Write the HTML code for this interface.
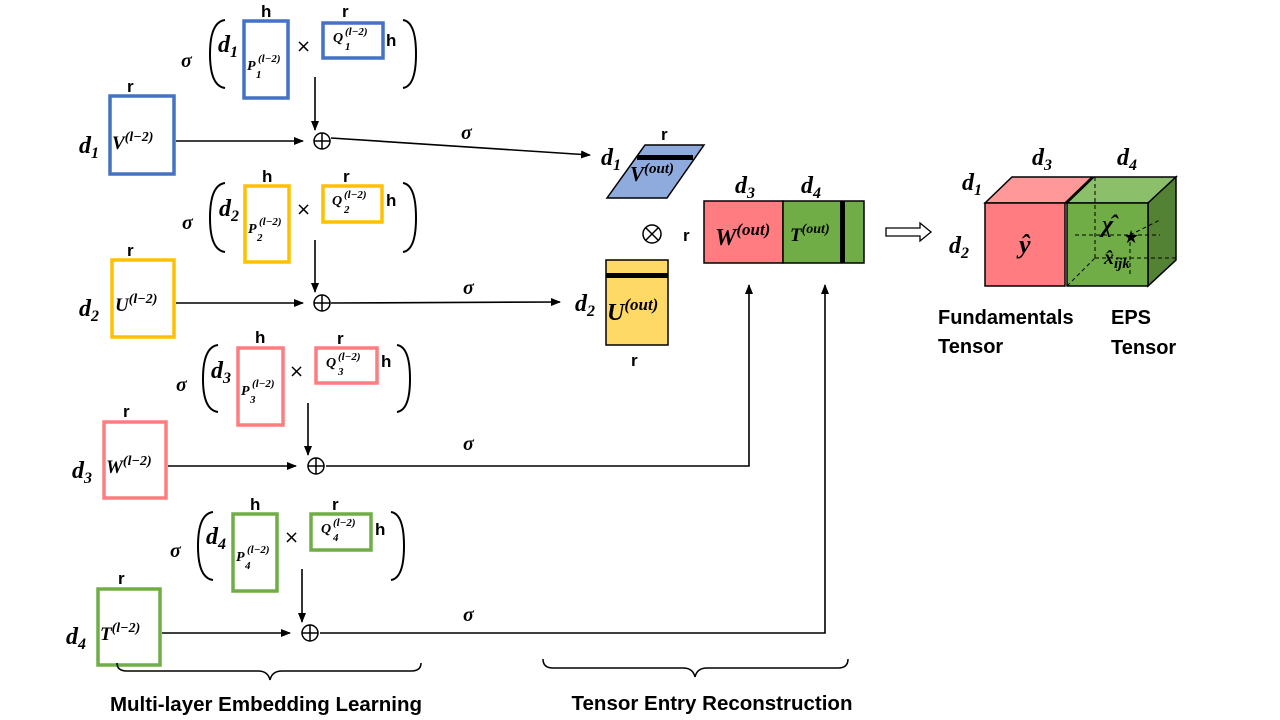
<!DOCTYPE html>
<html><head><meta charset="utf-8"><style>
body{margin:0;background:#fff}
svg{display:block}
.m{font-family:"Liberation Serif",serif;font-style:italic;font-weight:bold}
.s{font-family:"Liberation Sans",sans-serif;font-weight:bold}
.sg{font-family:"Liberation Serif",serif;font-style:italic;font-weight:bold;font-size:20px}
</style></head><body>
<svg width="1280" height="720" viewBox="0 0 1280 720" xmlns="http://www.w3.org/2000/svg">
<defs>
<marker id="a" markerWidth="10" markerHeight="8" refX="9" refY="4" orient="auto" markerUnits="userSpaceOnUse"><path d="M0,0 L10,4 L0,8 z" fill="#000"/></marker>
</defs>
<g fill="none" stroke-width="3.5">
<rect x="110" y="96" width="64" height="78" stroke="#4472C4"/>
<rect x="244" y="21" width="44" height="77" stroke="#4472C4"/>
<rect x="323" y="23" width="60" height="35" stroke="#4472C4"/>
<rect x="112" y="260" width="62" height="77" stroke="#FFC000"/>
<rect x="245" y="186" width="44" height="76" stroke="#FFC000"/>
<rect x="323" y="186" width="59" height="36" stroke="#FFC000"/>
<rect x="104" y="422" width="62" height="76" stroke="#FF7C80"/>
<rect x="238" y="348" width="45" height="77" stroke="#FF7C80"/>
<rect x="316" y="348" width="61" height="35" stroke="#FF7C80"/>
<rect x="98" y="589" width="62" height="76" stroke="#70AD47"/>
<rect x="233" y="514" width="44" height="77" stroke="#70AD47"/>
<rect x="311" y="514" width="60" height="36" stroke="#70AD47"/>
</g>
<g fill="none" stroke="#000" stroke-width="2">
<path d="M225,20 Q210,22 210,54 Q210,86 225,88"/>
<path d="M403,20 Q416,22 416,54 Q416,86 403,88"/>
<path d="M225,183 Q210,185 210,218 Q210,250 225,252"/>
<path d="M403,183 Q416,185 416,218 Q416,250 403,252"/>
<path d="M218,345 Q203,347 203,379 Q203,410 218,412"/>
<path d="M397,345 Q410,347 410,379 Q410,410 397,412"/>
<path d="M213,512 Q198,514 198,546 Q198,578 213,580"/>
<path d="M391,512 Q404,514 404,546 Q404,578 391,580"/>
</g>
<g stroke="#000" stroke-width="1.6" fill="none" marker-end="url(#a)">
<line x1="176" y1="141" x2="303" y2="141"/>
<line x1="315" y1="77" x2="315" y2="130"/>
<line x1="331" y1="138" x2="590" y2="155"/>
<line x1="176" y1="303" x2="303" y2="303"/>
<line x1="315" y1="240" x2="315" y2="292"/>
<line x1="331" y1="303" x2="560" y2="302"/>
<line x1="168" y1="466" x2="296" y2="466"/>
<line x1="308" y1="403" x2="308" y2="455"/>
<polyline points="326,466 749,466 749,285"/>
<line x1="162" y1="633" x2="290" y2="633"/>
<line x1="302" y1="569" x2="302" y2="622"/>
<polyline points="320,633 825,633 825,285"/>
</g>
<g fill="none" stroke="#000" stroke-width="1.5">
<circle cx="322" cy="141" r="8"/><path d="M314,141H330M322,133V149"/>
<circle cx="322" cy="303" r="8"/><path d="M314,303H330M322,295V311"/>
<circle cx="316" cy="466" r="8"/><path d="M308,466H324M316,458V474"/>
<circle cx="310" cy="633" r="8"/><path d="M302,633H318M310,625V641"/>
<circle cx="652" cy="234" r="9"/><path d="M646,228L658,240M658,228L646,240"/>
</g>
<polygon points="607,198 645,145 704,145 667,198" fill="#8FAADC" stroke="#000" stroke-width="1.5"/>
<rect x="637" y="155" width="56" height="5" fill="#000"/>
<rect x="606" y="260" width="62" height="85" fill="#FFD966" stroke="#000" stroke-width="1.5"/>
<rect x="606" y="273" width="62" height="5" fill="#000"/>
<rect x="704" y="201" width="79" height="62" fill="#FF7C80" stroke="#000" stroke-width="1.5"/>
<rect x="783" y="201" width="81" height="62" fill="#70AD47" stroke="#000" stroke-width="1.5"/>
<rect x="840" y="201" width="5" height="62" fill="#000"/>
<path d="M886,228 H920 V223 L931,232 L920,241 V236 H886 Z" fill="#fff" stroke="#000" stroke-width="1.3"/>
<g stroke="#000" stroke-width="1.5">
<polygon points="985,203 1012,177 1092,177 1065,203" fill="#FF9999"/>
<rect x="985" y="203" width="80" height="83" fill="#FF7C80"/>
<polygon points="1067,203 1094,177 1176,177 1148,203" fill="#8CBF6A"/>
<polygon points="1148,203 1176,177 1176,260 1148,286" fill="#548235"/>
<rect x="1067" y="203" width="81" height="83" fill="#70AD47"/>
</g>
<g stroke="#000" stroke-width="1" stroke-dasharray="4,3" fill="none">
<line x1="1095" y1="177" x2="1095" y2="258"/>
<line x1="1067" y1="286" x2="1095" y2="258"/>
<line x1="1095" y1="258" x2="1176" y2="258"/>
<line x1="1075" y1="235" x2="1160" y2="235"/>
<line x1="1130" y1="235" x2="1130" y2="275"/>
<line x1="1130" y1="235" x2="1160" y2="220"/>
</g>
<text x="1123" y="243" font-size="18" font-family="DejaVu Sans">★</text>
<g class="m" font-size="24">
<text x="79" y="153">d<tspan font-size="16" dy="5">1</tspan></text>
<text x="79" y="316">d<tspan font-size="16" dy="5">2</tspan></text>
<text x="72" y="478">d<tspan font-size="16" dy="5">3</tspan></text>
<text x="66" y="644">d<tspan font-size="16" dy="5">4</tspan></text>
<text x="218" y="52">d<tspan font-size="16" dy="5">1</tspan></text>
<text x="219" y="216">d<tspan font-size="16" dy="5">2</tspan></text>
<text x="211" y="378">d<tspan font-size="16" dy="5">3</tspan></text>
<text x="206" y="544">d<tspan font-size="16" dy="5">4</tspan></text>
<text x="601" y="165">d<tspan font-size="16" dy="5">1</tspan></text>
<text x="575" y="311">d<tspan font-size="16" dy="5">2</tspan></text>
<text x="735" y="193">d<tspan font-size="16" dy="5">3</tspan></text>
<text x="801" y="193">d<tspan font-size="16" dy="5">4</tspan></text>
<text x="1032" y="165">d<tspan font-size="16" dy="5">3</tspan></text>
<text x="1117" y="165">d<tspan font-size="16" dy="5">4</tspan></text>
<text x="962" y="190">d<tspan font-size="16" dy="5">1</tspan></text>
<text x="949" y="253">d<tspan font-size="16" dy="5">2</tspan></text>
</g>
<g class="m" font-size="19">
<text x="112" y="149">V<tspan font-size="14" dy="-8">(l−2)</tspan></text>
<text x="115" y="311">U<tspan font-size="14" dy="-8">(l−2)</tspan></text>
<text x="106" y="473">W<tspan font-size="14" dy="-8">(l−2)</tspan></text>
<text x="100" y="640">T<tspan font-size="14" dy="-8">(l−2)</tspan></text>
</g>
<g class="m" font-size="14">
<text x="247" y="70">P</text><text x="258" y="62" font-size="11">(l−2)</text><text x="256" y="78" font-size="11">1</text>
<text x="248" y="233">P</text><text x="259" y="225" font-size="11">(l−2)</text><text x="257" y="241" font-size="11">2</text>
<text x="241" y="395">P</text><text x="252" y="387" font-size="11">(l−2)</text><text x="250" y="403" font-size="11">3</text>
<text x="236" y="561">P</text><text x="247" y="553" font-size="11">(l−2)</text><text x="245" y="569" font-size="11">4</text>
<text x="333" y="42">Q</text><text x="345" y="35" font-size="11">(l−2)</text><text x="345" y="50" font-size="11">1</text>
<text x="332" y="205">Q</text><text x="344" y="198" font-size="11">(l−2)</text><text x="344" y="213" font-size="11">2</text>
<text x="326" y="367">Q</text><text x="338" y="360" font-size="11">(l−2)</text><text x="338" y="375" font-size="11">3</text>
<text x="321" y="533">Q</text><text x="333" y="526" font-size="11">(l−2)</text><text x="333" y="541" font-size="11">4</text>
</g>
<g class="m">
<text x="630" y="181" font-size="21">V<tspan font-size="15" dy="-8">(out)</tspan></text>
<text x="607" y="320" font-size="24">U<tspan font-size="17" dy="-10">(out)</tspan></text>
<text x="715" y="245" font-size="24">W<tspan font-size="17" dy="-10">(out)</tspan></text>
<text x="790" y="241" font-size="19">T<tspan font-size="14" dy="-8">(out)</tspan></text>
<text x="1019" y="253" font-size="26">ŷ</text>
<text x="1102" y="232" font-size="24">χ̂</text>
<text x="1104" y="264" font-size="20">x̂<tspan font-size="15" dy="4">ijk</tspan></text>
</g>
<g class="sg">
<text x="181" y="67">σ</text><text x="182" y="229">σ</text><text x="176" y="391">σ</text><text x="170" y="557">σ</text>
<text x="461" y="139">σ</text><text x="463" y="294">σ</text><text x="463" y="450">σ</text><text x="463" y="621">σ</text>
</g>
<g font-family="DejaVu Sans" font-size="18">
<text x="296" y="52">×</text><text x="296" y="215">×</text><text x="289" y="377">×</text><text x="284" y="543">×</text>
</g>
<g class="s" font-size="17">
<text x="127" y="92">r</text><text x="127" y="256">r</text><text x="123" y="417">r</text><text x="118" y="584">r</text>
<text x="261" y="17">h</text><text x="342" y="17">r</text><text x="386" y="46">h</text>
<text x="262" y="182">h</text><text x="343" y="182">r</text><text x="386" y="206">h</text>
<text x="255" y="343">h</text><text x="337" y="344">r</text><text x="381" y="367">h</text>
<text x="250" y="510">h</text><text x="332" y="510">r</text><text x="375" y="535">h</text>
<text x="661" y="140">r</text><text x="631" y="366">r</text><text x="683" y="241">r</text>
</g>
<g class="s" font-size="20">
<text x="938" y="324">Fundamentals</text><text x="938" y="353">Tensor</text>
<text x="1111" y="324">EPS</text><text x="1111" y="354">Tensor</text>
<text x="266" y="711" text-anchor="middle" font-size="20.5">Multi-layer Embedding Learning</text>
<text x="712" y="710" text-anchor="middle" font-size="20.5">Tensor Entry Reconstruction</text>
</g>
<g fill="none" stroke="#000" stroke-width="1.5">
<path d="M117,663 Q117,671 127,671 L258,671 Q268,671 270,680 Q272,671 282,671 L411,671 Q421,671 421,663"/>
<path d="M543,659 Q543,668 553,668 L683,668 Q693,668 695,677 Q697,668 707,668 L838,668 Q848,668 848,659"/>
</g>
</svg>
</body></html>
